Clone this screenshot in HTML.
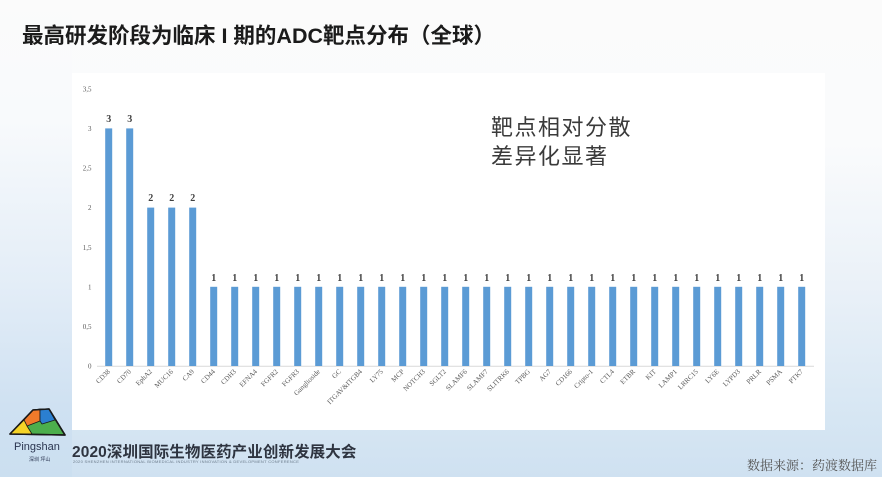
<!DOCTYPE html>
<html><head><meta charset="utf-8">
<style>
html,body{margin:0;padding:0;}
body{width:882px;height:477px;overflow:hidden;position:relative;
background:linear-gradient(to bottom,#fbfbfb 0%,#fafbfc 30%,#eaf1f8 60%,#d6e6f3 88%,#cfe1f1 100%);
font-family:"Liberation Sans","Noto Sans CJK SC",sans-serif;}
.leftstrip{position:absolute;left:0;top:0;width:72px;height:477px;
background:linear-gradient(to bottom,#fbfbfb 0%,#f8fafc 25%,#e3edf7 60%,#cfe1f2 85%,#cbdff0 100%);}
.panel{position:absolute;left:72px;top:73px;width:753px;height:357px;background:#fff;}
.title{position:absolute;left:22px;top:19px;font-size:21.5px;font-weight:bold;color:#1b1b1b;white-space:nowrap;letter-spacing:0px;
font-family:"Liberation Sans","Noto Sans CJK SC",sans-serif;}
.note{position:absolute;left:491px;top:113px;font-size:22px;line-height:29px;letter-spacing:1.5px;color:#3a3a3a;font-family:"Liberation Sans","Noto Sans CJK SC",sans-serif;}
.conf{position:absolute;left:72px;top:440px;font-size:15.5px;font-weight:bold;color:#2e3440;letter-spacing:0.1px;white-space:nowrap;font-family:"Liberation Sans","Noto Sans CJK SC",sans-serif;}
.confsub{position:absolute;left:73px;top:459px;font-size:4px;color:#6a7a8a;white-space:nowrap;letter-spacing:0.3px;}
.src{position:absolute;left:747px;top:455px;font-size:13px;color:#555;white-space:nowrap;font-family:"Liberation Serif","Noto Serif CJK SC",serif;}
.ping{position:absolute;left:14px;top:441px;font-size:11px;color:#2a3550;font-family:"Liberation Sans",sans-serif;}
.ping2{position:absolute;left:29px;top:456px;font-size:5px;color:#2a3550;font-family:"Liberation Sans","Noto Sans CJK SC",sans-serif;}
svg{position:absolute;left:0;top:0;}
</style></head><body>
<div class="leftstrip"></div>
<div class="panel"></div>
<div class="title">最高研发阶段为临床 I 期的ADC靶点分布（全球）</div>
<div class="note">靶点相对分散<br>差异化显著</div>

<svg width="882" height="477" viewBox="0 0 882 477" xmlns="http://www.w3.org/2000/svg">
<g font-family="Liberation Serif, serif" font-size="7" fill="#595959" text-anchor="end">
<text x="91.5" y="91.5">3,5</text>
<text x="91.5" y="131">3</text>
<text x="91.5" y="170.6">2,5</text>
<text x="91.5" y="210.2">2</text>
<text x="91.5" y="249.8">1,5</text>
<text x="91.5" y="289.4">1</text>
<text x="91.5" y="329">0,5</text>
<text x="91.5" y="368.6">0</text>
</g>
<line x1="97" y1="366.3" x2="814" y2="366.3" stroke="#d9d9d9" stroke-width="1"/>
<g fill="#5b9bd5">
<rect x="105.2" y="128.4" width="7" height="237.6"/>
<rect x="126.2" y="128.4" width="7" height="237.6"/>
<rect x="147.2" y="207.6" width="7" height="158.4"/>
<rect x="168.2" y="207.6" width="7" height="158.4"/>
<rect x="189.2" y="207.6" width="7" height="158.4"/>
<rect x="210.2" y="286.8" width="7" height="79.2"/>
<rect x="231.2" y="286.8" width="7" height="79.2"/>
<rect x="252.2" y="286.8" width="7" height="79.2"/>
<rect x="273.2" y="286.8" width="7" height="79.2"/>
<rect x="294.2" y="286.8" width="7" height="79.2"/>
<rect x="315.2" y="286.8" width="7" height="79.2"/>
<rect x="336.2" y="286.8" width="7" height="79.2"/>
<rect x="357.2" y="286.8" width="7" height="79.2"/>
<rect x="378.2" y="286.8" width="7" height="79.2"/>
<rect x="399.2" y="286.8" width="7" height="79.2"/>
<rect x="420.2" y="286.8" width="7" height="79.2"/>
<rect x="441.2" y="286.8" width="7" height="79.2"/>
<rect x="462.2" y="286.8" width="7" height="79.2"/>
<rect x="483.2" y="286.8" width="7" height="79.2"/>
<rect x="504.2" y="286.8" width="7" height="79.2"/>
<rect x="525.2" y="286.8" width="7" height="79.2"/>
<rect x="546.2" y="286.8" width="7" height="79.2"/>
<rect x="567.2" y="286.8" width="7" height="79.2"/>
<rect x="588.2" y="286.8" width="7" height="79.2"/>
<rect x="609.2" y="286.8" width="7" height="79.2"/>
<rect x="630.2" y="286.8" width="7" height="79.2"/>
<rect x="651.2" y="286.8" width="7" height="79.2"/>
<rect x="672.2" y="286.8" width="7" height="79.2"/>
<rect x="693.2" y="286.8" width="7" height="79.2"/>
<rect x="714.2" y="286.8" width="7" height="79.2"/>
<rect x="735.2" y="286.8" width="7" height="79.2"/>
<rect x="756.2" y="286.8" width="7" height="79.2"/>
<rect x="777.2" y="286.8" width="7" height="79.2"/>
<rect x="798.2" y="286.8" width="7" height="79.2"/>
</g>
<g font-family="Liberation Serif, serif" font-size="10" font-weight="bold" fill="#404040" text-anchor="middle">
<text x="108.7" y="122">3</text><text x="129.7" y="122">3</text>
<text x="150.7" y="201">2</text><text x="171.7" y="201">2</text><text x="192.7" y="201">2</text>
<text x="213.7" y="281">1</text><text x="234.7" y="281">1</text><text x="255.7" y="281">1</text><text x="276.7" y="281">1</text>
<text x="297.7" y="281">1</text><text x="318.7" y="281">1</text><text x="339.7" y="281">1</text><text x="360.7" y="281">1</text>
<text x="381.7" y="281">1</text><text x="402.7" y="281">1</text><text x="423.7" y="281">1</text><text x="444.7" y="281">1</text>
<text x="465.7" y="281">1</text><text x="486.7" y="281">1</text><text x="507.7" y="281">1</text><text x="528.7" y="281">1</text>
<text x="549.7" y="281">1</text><text x="570.7" y="281">1</text><text x="591.7" y="281">1</text><text x="612.7" y="281">1</text>
<text x="633.7" y="281">1</text><text x="654.7" y="281">1</text><text x="675.7" y="281">1</text><text x="696.7" y="281">1</text>
<text x="717.7" y="281">1</text><text x="738.7" y="281">1</text><text x="759.7" y="281">1</text><text x="780.7" y="281">1</text>
<text x="801.7" y="281">1</text>
</g>
<g font-family="Liberation Serif, serif" font-size="7" fill="#595959" text-anchor="end">
<text transform="translate(110.5,372) rotate(-45)">CD38</text>
<text transform="translate(131.5,372) rotate(-45)">CD70</text>
<text transform="translate(152.5,372) rotate(-45)">EphA2</text>
<text transform="translate(173.5,372) rotate(-45)">MUC16</text>
<text transform="translate(194.5,372) rotate(-45)">CA9</text>
<text transform="translate(215.5,372) rotate(-45)">CD44</text>
<text transform="translate(236.5,372) rotate(-45)">CDH3</text>
<text transform="translate(257.5,372) rotate(-45)">EFNA4</text>
<text transform="translate(278.5,372) rotate(-45)">FGFR2</text>
<text transform="translate(299.5,372) rotate(-45)">FGFR3</text>
<text transform="translate(320.5,372) rotate(-45)">Ganglioside</text>
<text transform="translate(341.5,372) rotate(-45)">GC</text>
<text transform="translate(362.5,372) rotate(-45)">ITGAV&amp;ITGB4</text>
<text transform="translate(383.5,372) rotate(-45)">LY75</text>
<text transform="translate(404.5,372) rotate(-45)">MCP</text>
<text transform="translate(425.5,372) rotate(-45)">NOTCH3</text>
<text transform="translate(446.5,372) rotate(-45)">SGLT2</text>
<text transform="translate(467.5,372) rotate(-45)">SLAMF6</text>
<text transform="translate(488.5,372) rotate(-45)">SLAMF7</text>
<text transform="translate(509.5,372) rotate(-45)">SLITRK6</text>
<text transform="translate(530.5,372) rotate(-45)">TPBG</text>
<text transform="translate(551.5,372) rotate(-45)">AG7</text>
<text transform="translate(572.5,372) rotate(-45)">CD166</text>
<text transform="translate(593.5,372) rotate(-45)">Cripto-1</text>
<text transform="translate(614.5,372) rotate(-45)">CTL4</text>
<text transform="translate(635.5,372) rotate(-45)">ETBR</text>
<text transform="translate(656.5,372) rotate(-45)">KIT</text>
<text transform="translate(677.5,372) rotate(-45)">LAMP1</text>
<text transform="translate(698.5,372) rotate(-45)">LRRC15</text>
<text transform="translate(719.5,372) rotate(-45)">LY6E</text>
<text transform="translate(740.5,372) rotate(-45)">LYPD3</text>
<text transform="translate(761.5,372) rotate(-45)">PRLR</text>
<text transform="translate(782.5,372) rotate(-45)">PSMA</text>
<text transform="translate(803.5,372) rotate(-45)">PTK7</text>
</g>
<!-- logo -->
<g stroke="#1a1a1a" stroke-width="1.6" stroke-linejoin="round">
<polygon points="33,410 49,409 65,435 10,434" fill="#4cae4c"/>
<polygon points="33,410 40,409 40,421 27,426 24,420" fill="#f07a2a" stroke-width="0.8"/>
<polygon points="40,409 49,409 55,420 42,424 40,421" fill="#2b7fd0" stroke-width="0.8"/>
<polygon points="24,420 27,426 32,434 10,434" fill="#f5d327" stroke-width="0.8"/>
<polygon points="33,410 49,409 65,435 10,434" fill="none"/>
</g>
</svg>

<div class="ping">Pingshan</div>
<div class="ping2">深圳 坪山</div>
<div class="conf">2020深圳国际生物医药产业创新发展大会</div>
<div class="confsub">2020 SHENZHEN INTERNATIONAL BIOMEDICAL INDUSTRY INNOVATION &amp; DEVELOPMENT CONFERENCE</div>
<div class="src">数据来源：药渡数据库</div>
</body></html>
